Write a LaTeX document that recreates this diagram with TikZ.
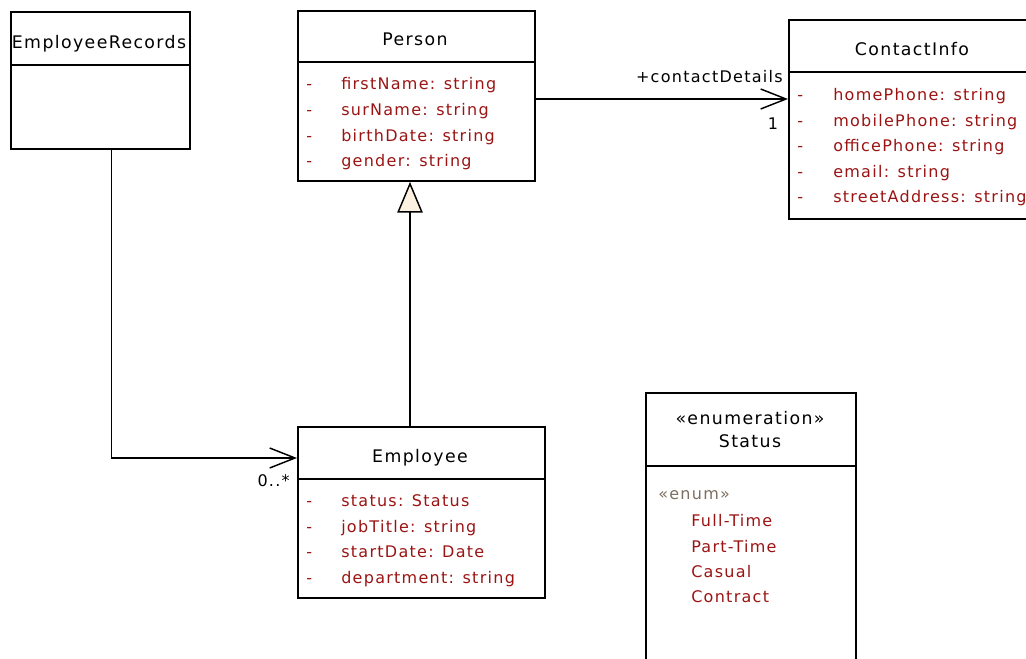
\documentclass[tikz,border=0pt]{standalone}
\usepackage{fontspec}
\newfontfamily\umlfont[LetterSpace=8]{DejaVu Sans}
\usepackage{tikz}
\usetikzlibrary{arrows.meta,positioning}

\definecolor{attrred}{RGB}{155,20,20}
\definecolor{stereogrey}{RGB}{125,110,95}
\definecolor{trifill}{RGB}{253,242,226}

\tikzset{
  umlclass/.style={draw, line width=1.4pt, anchor=north west, inner sep=0pt},
  umlsep/.style={line width=1.4pt},
  umltitle/.style={font=\umlfont\fontsize{13}{15}\selectfont, anchor=base, inner sep=0pt},
  umlattr/.style={font=\umlfont\fontsize{12}{14}\selectfont, text=attrred, anchor=base west, inner sep=0pt},
  umlrole/.style={font=\umlfont\fontsize{12}{14}\selectfont, inner sep=0pt},
  assoc/.style={line width=1.3pt, -{Straight Barb[length=19pt,width=15pt,line width=1.1pt]}},
  inherit/.style={line width=1.3pt, -{Triangle[open, fill=trifill, length=23pt, width=19pt, line width=1.1pt]}}
}

\begin{document}
\begin{tikzpicture}[x=0.75pt, y=-0.75pt]
\useasboundingbox (0,0) rectangle (1026,659);

% class boxes
\node[umlclass, minimum width=134.25pt, minimum height=102.75pt] (records) at (10,11) {};
\node[umlclass, minimum width=177.75pt, minimum height=127.5pt] (person) at (297,10) {};
\node[umlclass, minimum width=189pt, minimum height=149.25pt] (contact) at (788,19) {};
\node[umlclass, minimum width=185.25pt, minimum height=128.25pt] (employee) at (297,426) {};
\node[umlclass, minimum width=157.5pt, minimum height=208.5pt] (status) at (645,392) {};

% header lines
\draw[umlsep] (records.west |- 0,65) -- (records.east |- 0,65);
\draw[umlsep] (person.west |- 0,62) -- (person.east |- 0,62);
\draw[umlsep] (contact.west |- 0,72) -- (contact.east |- 0,72);
\draw[umlsep] (employee.west |- 0,479) -- (employee.east |- 0,479);
\draw[umlsep] (status.west |- 0,466) -- (status.east |- 0,466);

% titles
\node[umltitle] (recordsname) at (99,49) {EmployeeRecords};
\node[umltitle] (personname) at (415,46) {Person};
\node[umltitle] (contactname) at (912,56) {ContactInfo};
\node[umltitle] (employeename) at (420,463) {Employee};
\node[umltitle] (statusstereo) at (750,425) {«enumeration»};
\node[umltitle] (statusname) at (750,448) {Status};

% attributes
\foreach \txt [count=\i] in {firstName: string, surName: string, birthDate: string, gender: string} {
  \node[umlattr] (pdash\i) at (306,{90+25.6*(\i-1)}) {-};
  \node[umlattr] (pattr\i) at (341,{90+25.6*(\i-1)}) {\txt};
}
\foreach \txt [count=\i] in {homePhone: string, mobilePhone: string, officePhone: string, email: string, streetAddress: string} {
  \node[umlattr] (cdash\i) at (797,{100.5+25.6*(\i-1)}) {-};
  \node[umlattr] (cattr\i) at (833,{100.5+25.6*(\i-1)}) {\txt};
}
\foreach \txt [count=\i] in {status: Status, jobTitle: string, startDate: Date, department: string} {
  \node[umlattr] (edash\i) at (306,{506.5+25.7*(\i-1)}) {-};
  \node[umlattr] (eattr\i) at (341,{506.5+25.7*(\i-1)}) {\txt};
}
\node[umlattr, text=stereogrey] (enumstereo) at (658,500) {«enum»};
\foreach \txt [count=\i] in {Full-Time, Part-Time, Casual, Contract} {
  \node[umlattr] (lit\i) at (691,{526.5+25.5*(\i-1)}) {\txt};
}

% connectors
\draw[assoc] (person.east |- 0,99) -- (contact.west |- 0,99);
\node[umlrole, anchor=base east] (rolename) at (783,83) {+contactDetails};
\node[umlrole, anchor=base] (rolemult) at (773,130) {1};

\draw[assoc] ([xshift=8.25pt]records.south) |- (employee.west |- 0,458);
\node[umlrole, anchor=base east] (empmult) at (290,487) {0..*};

\draw[inherit] (employee.north -| 410,0) -- (person.south -| 410,0);
\end{tikzpicture}
\end{document}
